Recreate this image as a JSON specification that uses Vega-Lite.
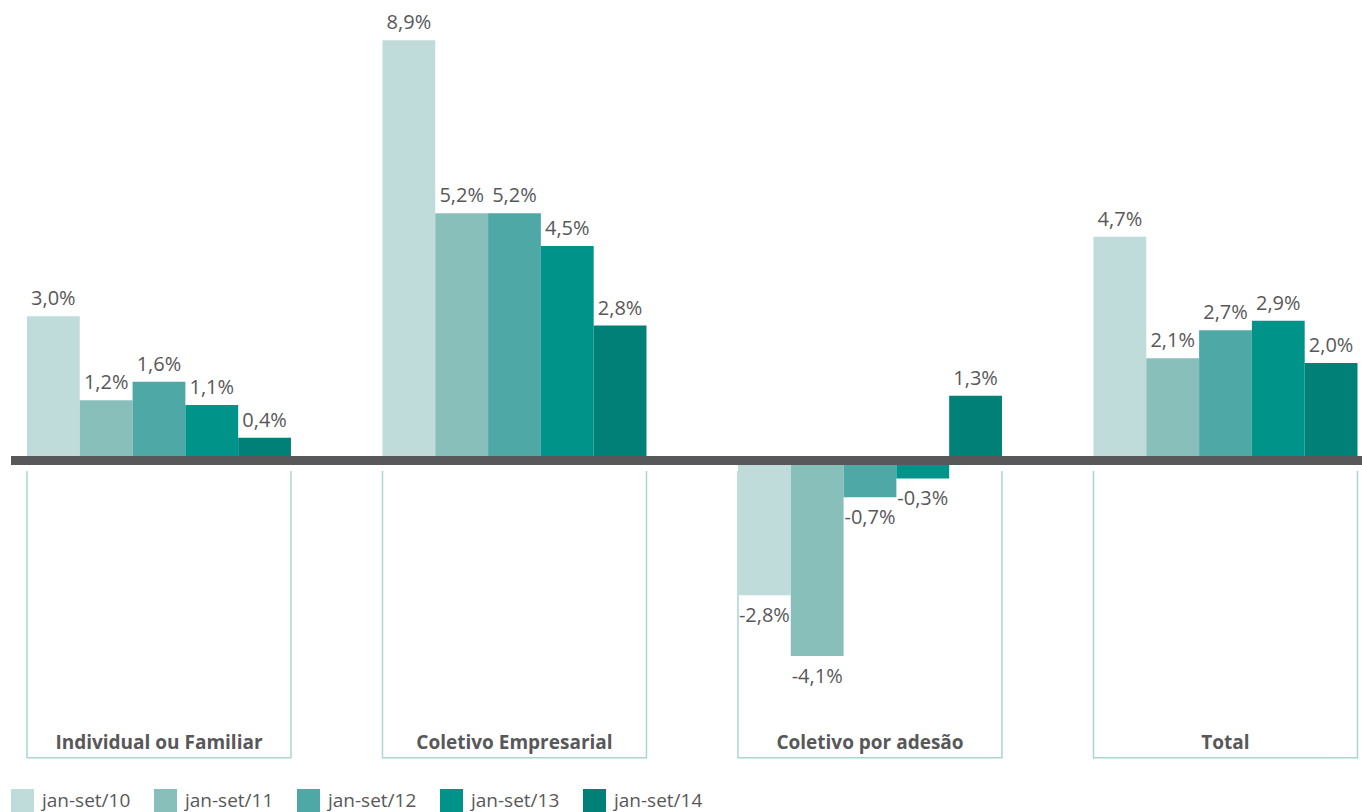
{
  "$schema": "https://vega.github.io/schema/vega-lite/v6.json",
  "width": 1351,
  "height": 734,
  "autosize": {"type": "none"},
  "padding": {"left": 11, "top": 35, "right": 0, "bottom": 43},
  "background": "#ffffff",
  "config": {
    "view": {"stroke": null},
    "font": "Open Sans",
    "locale": {"number": {"decimal": ",", "thousands": ".", "grouping": [3], "currency": ["R$", ""], "minus": "-"}}
  },
  "datasets": {
    "barras": [
      {"grupo": "Individual ou Familiar", "periodo": "jan-set/10", "valor": 0.030},
      {"grupo": "Individual ou Familiar", "periodo": "jan-set/11", "valor": 0.012},
      {"grupo": "Individual ou Familiar", "periodo": "jan-set/12", "valor": 0.016},
      {"grupo": "Individual ou Familiar", "periodo": "jan-set/13", "valor": 0.011},
      {"grupo": "Individual ou Familiar", "periodo": "jan-set/14", "valor": 0.004},
      {"grupo": "Coletivo Empresarial", "periodo": "jan-set/10", "valor": 0.089},
      {"grupo": "Coletivo Empresarial", "periodo": "jan-set/11", "valor": 0.052},
      {"grupo": "Coletivo Empresarial", "periodo": "jan-set/12", "valor": 0.052},
      {"grupo": "Coletivo Empresarial", "periodo": "jan-set/13", "valor": 0.045},
      {"grupo": "Coletivo Empresarial", "periodo": "jan-set/14", "valor": 0.028},
      {"grupo": "Coletivo por adesão", "periodo": "jan-set/10", "valor": -0.028},
      {"grupo": "Coletivo por adesão", "periodo": "jan-set/11", "valor": -0.041},
      {"grupo": "Coletivo por adesão", "periodo": "jan-set/12", "valor": -0.007},
      {"grupo": "Coletivo por adesão", "periodo": "jan-set/13", "valor": -0.003},
      {"grupo": "Coletivo por adesão", "periodo": "jan-set/14", "valor": 0.013},
      {"grupo": "Total", "periodo": "jan-set/10", "valor": 0.047},
      {"grupo": "Total", "periodo": "jan-set/11", "valor": 0.021},
      {"grupo": "Total", "periodo": "jan-set/12", "valor": 0.027},
      {"grupo": "Total", "periodo": "jan-set/13", "valor": 0.029},
      {"grupo": "Total", "periodo": "jan-set/14", "valor": 0.020}
    ],
    "grupos": [
      {"grupo": "Individual ou Familiar", "topo": -0.00227, "base": -0.0636, "rotulo": -0.0605},
      {"grupo": "Coletivo Empresarial", "topo": -0.00227, "base": -0.0636, "rotulo": -0.0605},
      {"grupo": "Coletivo por adesão", "topo": -0.00227, "base": -0.0636, "rotulo": -0.0605},
      {"grupo": "Total", "topo": -0.00227, "base": -0.0636, "rotulo": -0.0605}
    ]
  },
  "data": {"name": "barras"},
  "encoding": {
    "x": {
      "field": "grupo",
      "type": "nominal",
      "sort": null,
      "axis": null,
      "scale": {
        "domain": ["Individual ou Familiar", "Coletivo Empresarial", "Coletivo por adesão", "Total"],
        "paddingInner": 0.2574,
        "paddingOuter": 0.0288,
        "align": 0.78
      }
    }
  },
  "layer": [
    {
      "data": {"name": "grupos"},
      "mark": {"type": "rect", "fill": null, "fillOpacity": 0, "stroke": "#a9d6d3", "strokeWidth": 1.5, "strokeDash": [0, 264, 840, 0]},
      "encoding": {
        "y": {"field": "topo", "type": "quantitative", "axis": null, "scale": {"domain": [-0.066, 0.091], "nice": false, "zero": false}},
        "y2": {"field": "base"}
      }
    },
    {
      "transform": [{"filter": "datum.valor >= 0"}],
      "mark": {"type": "bar", "yOffset": -4},
      "encoding": {
        "xOffset": {"field": "periodo", "type": "nominal", "sort": null, "scale": {"paddingInner": 0, "paddingOuter": 0}},
        "y": {"field": "valor", "type": "quantitative", "axis": null, "scale": {"domain": [-0.066, 0.091], "nice": false, "zero": false}},
        "color": {
          "field": "periodo",
          "type": "nominal",
          "scale": {
            "domain": ["jan-set/10", "jan-set/11", "jan-set/12", "jan-set/13", "jan-set/14"],
            "range": ["#bfdcdb", "#88bfbb", "#4ea9a6", "#009389", "#008076"]
          },
          "legend": {
            "title": null,
            "orient": "none",
            "legendX": 0,
            "legendY": 754,
            "direction": "horizontal",
            "columns": 5,
            "gridAlign": "all",
            "columnPadding": 23,
            "padding": 0,
            "symbolType": "square",
            "symbolSize": 529,
            "symbolStrokeWidth": 0,
            "symbolOpacity": 1,
            "labelOffset": 8,
            "labelFont": "Open Sans",
            "labelFontSize": 19,
            "labelColor": "#58585a",
            "labelLimit": 200
          }
        }
      }
    },
    {
      "transform": [{"filter": "datum.valor < 0"}],
      "mark": {"type": "bar", "yOffset": 4},
      "encoding": {
        "xOffset": {"field": "periodo", "type": "nominal", "sort": null, "scale": {"paddingInner": 0, "paddingOuter": 0}},
        "y": {"field": "valor", "type": "quantitative", "axis": null},
        "color": {"field": "periodo", "type": "nominal"}
      }
    },
    {
      "mark": {"type": "rule", "color": "#58585a", "strokeWidth": 8},
      "encoding": {"y": {"datum": 0, "type": "quantitative"}, "x": null}
    },
    {
      "transform": [{"filter": "datum.valor >= 0"}],
      "mark": {"type": "text", "baseline": "middle", "align": "center", "dy": -21, "font": "Open Sans", "fontSize": 20, "color": "#58585a"},
      "encoding": {
        "xOffset": {"field": "periodo", "type": "nominal", "sort": null},
        "y": {"field": "valor", "type": "quantitative"},
        "text": {"field": "valor", "type": "quantitative", "format": ".1%"}
      }
    },
    {
      "transform": [{"filter": "datum.valor < 0"}],
      "mark": {"type": "text", "baseline": "middle", "align": "center", "dy": 24.5, "font": "Open Sans", "fontSize": 20, "color": "#58585a"},
      "encoding": {
        "xOffset": {"field": "periodo", "type": "nominal", "sort": null},
        "y": {"field": "valor", "type": "quantitative"},
        "text": {"field": "valor", "type": "quantitative", "format": ".1%"}
      }
    },
    {
      "data": {"name": "grupos"},
      "mark": {"type": "text", "baseline": "middle", "align": "center", "font": "Open Sans", "fontSize": 19, "fontWeight": "bold", "color": "#58585a"},
      "encoding": {
        "y": {"field": "rotulo", "type": "quantitative"},
        "text": {"field": "grupo", "type": "nominal"}
      }
    }
  ]
}
